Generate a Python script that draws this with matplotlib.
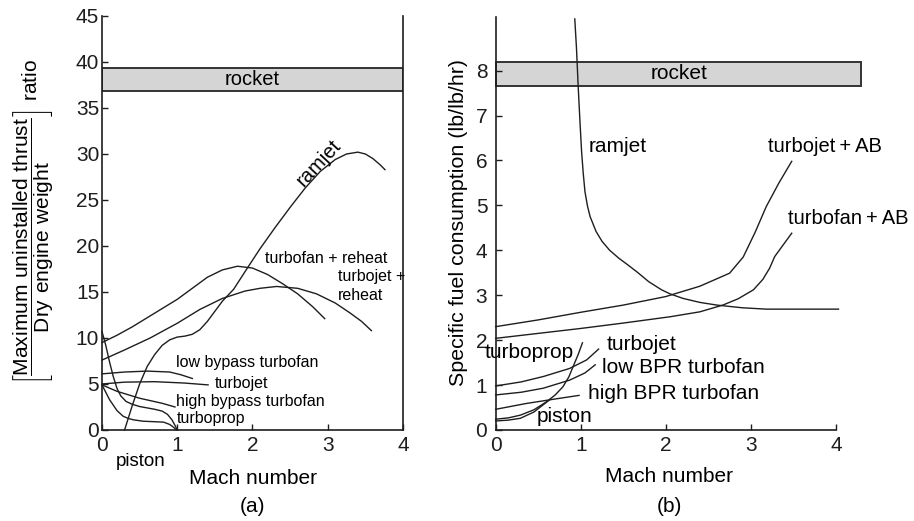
import matplotlib
matplotlib.use("Agg")
import matplotlib.pyplot as plt
from matplotlib.patches import Rectangle

# ---- panel (a): thrust/weight ratio vs Mach number ----
ramjet_a_x = [0.3, 0.4, 0.5, 0.6, 0.7, 0.8, 0.9, 1.0, 1.1, 1.2, 1.3, 1.4, 1.5, 1.6,
              1.75, 1.9, 2.1, 2.3, 2.5, 2.7, 2.9, 3.1, 3.25, 3.4, 3.5, 3.6, 3.7, 3.76]
ramjet_a_y = [0.0, 2.6, 5.0, 6.9, 8.2, 9.2, 9.8, 10.1, 10.2, 10.4, 10.9, 11.8, 12.9, 14.0,
              15.3, 17.2, 19.7, 22.0, 24.2, 26.3, 28.1, 29.4, 30.0, 30.2, 30.0, 29.5, 28.8, 28.3]
tf_reheat_x = [0, 0.2, 0.4, 0.6, 0.8, 1.0, 1.2, 1.4, 1.6, 1.8, 2.0, 2.2, 2.4, 2.6, 2.8, 2.96]
tf_reheat_y = [9.5, 10.3, 11.2, 12.2, 13.2, 14.2, 15.4, 16.6, 17.4, 17.8, 17.6, 16.9, 15.9, 14.8, 13.4, 12.1]
tj_reheat_x = [0, 0.3, 0.64, 1.0, 1.3, 1.6, 1.9, 2.1, 2.32, 2.6, 2.85, 3.1, 3.3, 3.45, 3.58]
tj_reheat_y = [7.6, 8.7, 10.0, 11.6, 13.1, 14.3, 15.1, 15.4, 15.6, 15.4, 14.8, 13.8, 12.7, 11.8, 10.8]
low_bp_x = [0, 0.3, 0.6, 0.9, 1.05, 1.2]
low_bp_y = [6.1, 6.3, 6.4, 6.3, 6.0, 5.6]
turbojet_a_x = [0, 0.3, 0.7, 1.1, 1.41]
turbojet_a_y = [5.0, 5.2, 5.25, 5.1, 4.9]
high_bp_x = [0, 0.2, 0.5, 0.8, 0.97]
high_bp_y = [4.9, 4.2, 3.45, 2.9, 2.5]
turboprop_a_x = [0, 0.05, 0.1, 0.15, 0.2, 0.25, 0.32, 0.4, 0.5, 0.6, 0.7, 0.8, 0.87, 0.93, 0.97, 1.0]
turboprop_a_y = [10.7, 9.2, 7.4, 5.8, 4.5, 3.7, 3.1, 2.8, 2.55, 2.4, 2.25, 2.05, 1.7, 1.1, 0.5, 0.0]
piston_a_x = [0, 0.05, 0.1, 0.15, 0.2, 0.28, 0.35, 0.42, 0.55, 0.7, 0.82, 0.9, 0.95, 0.99]
piston_a_y = [4.9, 4.1, 3.3, 2.7, 2.1, 1.5, 1.25, 1.1, 0.95, 0.9, 0.85, 0.6, 0.3, 0.0]
rocket_a = (36.8, 39.3)

# ---- panel (b): specific fuel consumption vs Mach number ----
ramjet_b_x = [0.93, 0.95, 0.97, 0.99, 1.01, 1.03, 1.05, 1.08, 1.11, 1.18, 1.25, 1.34,
              1.45, 1.55, 1.66, 1.8, 1.95, 2.05, 2.2, 2.4, 2.6, 2.9, 3.18, 3.6, 4.03]
ramjet_b_y = [9.15, 8.5, 7.65, 6.9, 6.2, 5.7, 5.3, 4.98, 4.75, 4.42, 4.2, 4.0,
              3.82, 3.68, 3.52, 3.3, 3.12, 3.03, 2.93, 2.84, 2.78, 2.72, 2.69, 2.69, 2.69]
tj_ab_x = [0, 0.5, 1.0, 1.5, 2.0, 2.4, 2.75, 2.91, 3.05, 3.18, 3.33, 3.48]
tj_ab_y = [2.3, 2.45, 2.62, 2.78, 2.97, 3.2, 3.49, 3.85, 4.4, 4.97, 5.5, 5.98]
tf_ab_x = [0, 0.5, 1.0, 1.5, 2.05, 2.4, 2.67, 2.85, 3.03, 3.14, 3.22, 3.28, 3.38, 3.48]
tf_ab_y = [2.04, 2.15, 2.26, 2.38, 2.52, 2.63, 2.78, 2.92, 3.12, 3.35, 3.6, 3.86, 4.12, 4.38]
turbojet_b_x = [0, 0.3, 0.56, 0.87, 1.07, 1.21]
turbojet_b_y = [0.98, 1.07, 1.19, 1.37, 1.56, 1.8]
low_bpr_x = [0, 0.3, 0.56, 0.87, 1.05, 1.17]
low_bpr_y = [0.78, 0.84, 0.93, 1.11, 1.27, 1.45]
high_bpr_x = [0, 0.36, 0.7, 0.98]
high_bpr_y = [0.46, 0.59, 0.69, 0.77]
turboprop_b_x = [0, 0.15, 0.29, 0.45, 0.6, 0.7, 0.79, 0.86, 0.91, 0.97, 1.02]
turboprop_b_y = [0.24, 0.27, 0.33, 0.45, 0.63, 0.78, 0.96, 1.18, 1.41, 1.68, 1.94]
piston_b_x = [0, 0.15, 0.29, 0.45, 0.64]
piston_b_y = [0.2, 0.22, 0.26, 0.4, 0.68]
rocket_b = (7.65, 8.2)

plt.rcParams['font.family'] = ['Liberation Sans', 'DejaVu Sans']
plt.rcParams['mathtext.fontset'] = 'custom'
plt.rcParams['mathtext.rm'] = 'Liberation Sans'

LC = '#1e1e1e'
LW = 1.0

fig = plt.figure(figsize=(9.14, 5.21), dpi=100)
ax1 = fig.add_axes([0.1116, 0.1747, 0.3293, 0.7946])
ax2 = fig.add_axes([0.5423, 0.1747, 0.3723, 0.7933])

for ax in (ax1, ax2):
    ax.spines['top'].set_visible(False)
    for s in ax.spines.values():
        s.set_linewidth(1.2)
        s.set_color(LC)
    ax.tick_params(direction='in', length=4, width=1, labelsize=15, colors=LC)
    ax.tick_params(axis='x', pad=4)
ax2.spines['right'].set_visible(False)
ax1.tick_params(axis='y', pad=2)
ax2.tick_params(axis='y', pad=6)

# panel (a)
ax1.set_xlim(0, 4)
ax1.set_ylim(0, 45)
ax1.set_xticks([0, 1, 2, 3, 4])
ax1.set_yticks(range(0, 46, 5))
ax1.axhspan(*rocket_a, facecolor='#d5d5d5', edgecolor='#333333', lw=1.4)
ax1.text(2.0, sum(rocket_a) / 2, 'rocket', ha='center', va='center', fontsize=14.5)

for xs, ys in [(ramjet_a_x, ramjet_a_y), (tf_reheat_x, tf_reheat_y),
               (tj_reheat_x, tj_reheat_y), (low_bp_x, low_bp_y),
               (turbojet_a_x, turbojet_a_y), (high_bp_x, high_bp_y),
               (turboprop_a_x, turboprop_a_y), (piston_a_x, piston_a_y)]:
    ax1.plot(xs, ys, color=LC, lw=LW, clip_on=False)

ax1.text(2.88, 29.0, 'ramjet', rotation=47, ha='center', va='center', fontsize=14.5)
ax1.text(2.17, 18.6, 'turbofan + reheat', ha='left', va='center', fontsize=11.5)
ax1.text(3.14, 16.7, 'turbojet +', ha='left', va='center', fontsize=11.5)
ax1.text(3.14, 14.6, 'reheat', ha='left', va='center', fontsize=11.5)
ax1.text(0.99, 7.3, 'low bypass turbofan', ha='left', va='center', fontsize=11.5)
ax1.text(1.5, 5.0, 'turbojet', ha='left', va='center', fontsize=11.5)
ax1.text(0.98, 3.1, 'high bypass turbofan', ha='left', va='center', fontsize=11.5)
ax1.text(0.99, 1.3, 'turboprop', ha='left', va='center', fontsize=11.5)
ax1.text(0.52, -3.4, 'piston', ha='center', va='center', fontsize=13.5, clip_on=False)

# panel (b)
ax2.set_xlim(0, 4)
ax2.set_ylim(0, 9.2)
ax2.set_xticks([0, 1, 2, 3, 4])
ax2.set_yticks(range(0, 9))
ax2.add_patch(Rectangle((0, rocket_b[0]), 4.3, rocket_b[1] - rocket_b[0],
                        facecolor='#d5d5d5', edgecolor='#333333', lw=1.4, clip_on=False))
ax2.text(2.15, sum(rocket_b) / 2, 'rocket', ha='center', va='center', fontsize=15)

for xs, ys in [(ramjet_b_x, ramjet_b_y), (tj_ab_x, tj_ab_y), (tf_ab_x, tf_ab_y),
               (turbojet_b_x, turbojet_b_y), (low_bpr_x, low_bpr_y),
               (high_bpr_x, high_bpr_y), (turboprop_b_x, turboprop_b_y),
               (piston_b_x, piston_b_y)]:
    ax2.plot(xs, ys, color=LC, lw=LW, clip_on=False)

ax2.text(1.09, 6.3, 'ramjet', ha='left', va='center', fontsize=15)
ax2.text(3.2, 6.3, 'turbojet\u2009+\u2009AB', ha='left', va='center', fontsize=14.5)
ax2.text(3.44, 4.71, 'turbofan\u2009+\u2009AB', ha='left', va='center', fontsize=14.5)
ax2.text(1.3, 1.9, 'turbojet', ha='left', va='center', fontsize=15)
ax2.text(1.245, 1.4, 'low BPR turbofan', ha='left', va='center', fontsize=15)
ax2.text(1.09, 0.82, 'high BPR turbofan', ha='left', va='center', fontsize=15)
ax2.text(0.48, 0.3, 'piston', ha='left', va='center', fontsize=15)
ax2.text(-0.13, 1.72, 'turboprop', ha='left', va='center', fontsize=15, clip_on=False)

# axis titles
fig.text(34 / 914, 1 - 222 / 521,
         r'$\left[\dfrac{\mathrm{Maximum\ uninstalled\ thrust}}{\mathrm{Dry\ engine\ weight}}\right]$ ratio',
         rotation=90, ha='center', va='center', fontsize=15)
fig.text(458 / 914, 1 - 223 / 521, 'Specific fuel consumption (lb/lb/hr)',
         rotation=90, ha='center', va='center', fontsize=15.4)
fig.text(253 / 914, 1 - 478 / 521, 'Mach number', ha='center', va='center', fontsize=15)
fig.text(669 / 914, 1 - 477 / 521, 'Mach number', ha='center', va='center', fontsize=15)
fig.text(253 / 914, 1 - 506 / 521, '(a)', ha='center', va='center', fontsize=15)
fig.text(669 / 914, 1 - 507 / 521, '(b)', ha='center', va='center', fontsize=15)

fig.savefig('out.png', dpi=100)
